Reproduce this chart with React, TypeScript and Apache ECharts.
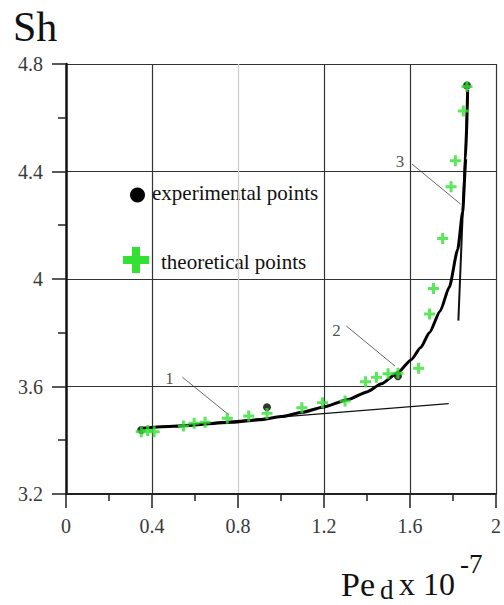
import React, { useEffect, useRef } from "react";
import * as echarts from "echarts";

const xTicks = [0, 0.4, 0.8, 1.2, 1.6, 2];
const yTicks = [3.2, 3.6, 4.0, 4.4, 4.8];

const mainCurve: [number, number][] = [
  [0.342, 3.444], [0.5, 3.452], [0.773, 3.467], [0.9, 3.476], [1.0, 3.488],
  [1.1, 3.504], [1.193, 3.523], [1.313, 3.552], [1.4, 3.58], [1.467, 3.61],
  [1.544, 3.652], [1.606, 3.7], [1.65, 3.745], [1.69, 3.8], [1.74, 3.88],
  [1.783, 3.97], [1.822, 4.11], [1.845, 4.25], [1.86, 4.45], [1.868, 4.703],
];
const asymptote1: [number, number][] = [[0.35, 3.445], [1.78, 3.536]];
const asymptote3: [number, number][] = [[1.825, 3.845], [1.868, 4.7]];

const theoretical: [number, number][] = [
  [0.35, 3.432], [0.38, 3.436], [0.41, 3.432], [0.546, 3.453], [0.596, 3.463],
  [0.647, 3.467], [0.75, 3.482], [0.85, 3.49], [0.935, 3.5], [1.097, 3.521],
  [1.193, 3.54], [1.298, 3.546], [1.393, 3.618], [1.444, 3.634], [1.498, 3.647],
  [1.544, 3.649], [1.64, 3.668], [1.691, 3.87], [1.709, 3.965], [1.752, 4.151],
  [1.791, 4.343], [1.811, 4.44], [1.848, 4.625], [1.865, 4.716],
];
const experimental: [number, number][] = [
  [0.35, 3.438], [0.935, 3.523], [1.544, 3.638], [1.865, 4.72],
];

const leader1: [number, number][] = [[0.541, 3.635], [0.758, 3.494]];
const leader2: [number, number][] = [[1.304, 3.825], [1.53, 3.676]];
const leader3: [number, number][] = [[1.609, 4.428], [1.835, 4.279]];
const curveLabels: [number, number, string][] = [
  [0.481, 3.628, "1"], [1.258, 3.81, "2"], [1.553, 4.439, "3"],
];

const legendNames = ["experimental points", "theoretical points"];
const yName = "Sh";
const xNameParts = ["Pe", "d", "x 10", "-7"];

const SERIF = "'Liberation Serif', 'DejaVu Serif', serif";
const GREEN = "#33e033";
const PLUS = "path://M4,0H7V4H11V7H7V11H4V7H0V4H4Z";

export default function App() {
  const ref = useRef<HTMLDivElement>(null);
  useEffect(() => {
    if (!ref.current) return;
    const chart = echarts.init(ref.current, null, { renderer: "svg" });
    const thin = (data: [number, number][], w: number, c: string) => ({
      type: "line",
      data,
      showSymbol: false,
      symbol: "none",
      lineStyle: { color: c, width: w },
      silent: true,
      z: 2,
    });
    chart.setOption({
      animation: false,
      backgroundColor: "#fff",
      grid: { left: 66, right: 6, top: 64, bottom: 111, containLabel: false },
      xAxis: {
        type: "value",
        min: xTicks[0],
        max: xTicks[xTicks.length - 1],
        interval: 0.4,
        axisLine: { show: true, onZero: false, lineStyle: { color: "#222", width: 2 } },
        axisTick: { show: true, inside: false, length: 14, lineStyle: { color: "#222", width: 1.5 } },
        minorTick: { show: true, splitNumber: 2, length: 7, lineStyle: { color: "#222", width: 1.5 } },
        axisLabel: { margin: 22, fontFamily: SERIF, fontSize: 20, color: "#3a3a3a" },
        splitLine: {
          show: true,
          showMinLine: false,
          lineStyle: { color: ["#333", "#ccc", "#333", "#333", "#333", "#333"], width: 1.2 },
        },
      },
      yAxis: {
        type: "value",
        min: yTicks[0],
        max: yTicks[yTicks.length - 1],
        interval: 0.4,
        axisLine: { show: true, onZero: false, lineStyle: { color: "#111", width: 2.5 } },
        axisTick: { show: true, inside: false, length: 14, lineStyle: { color: "#222", width: 1.5 } },
        minorTick: { show: true, splitNumber: 2, length: 8, lineStyle: { color: "#222", width: 1.5 } },
        axisLabel: { margin: 23, fontFamily: SERIF, fontSize: 20, color: "#3a3a3a" },
        splitLine: { show: true, showMinLine: false, lineStyle: { color: "#333", width: 1.2 } },
      },
      series: [
        thin(asymptote1, 1.3, "#111"),
        thin(asymptote3, 2, "#111"),
        thin(leader1, 0.8, "#444"),
        thin(leader2, 0.8, "#444"),
        thin(leader3, 0.8, "#444"),
        {
          type: "line",
          data: mainCurve,
          smooth: 0.2,
          smoothMonotone: "x",
          showSymbol: false,
          symbol: "none",
          lineStyle: { color: "#000", width: 3 },
          z: 3,
        },
        {
          name: legendNames[0],
          type: "scatter",
          data: experimental,
          symbol: "circle",
          symbolSize: 8,
          itemStyle: { color: "#000" },
          z: 4,
        },
        {
          name: legendNames[1],
          type: "scatter",
          data: theoretical,
          symbol: PLUS,
          symbolSize: 11,
          itemStyle: { color: GREEN },
          z: 5,
        },
        {
          type: "scatter",
          data: curveLabels,
          symbolSize: 0,
          silent: true,
          label: {
            show: true,
            position: "inside",
            formatter: (p: any) => p.value[2],
            fontFamily: SERIF,
            fontSize: 17,
            color: "#222",
          },
          z: 6,
        },
      ],
      graphic: [
        { type: "text", left: 13, top: 6, style: { text: yName, fontFamily: SERIF, fontSize: 42, fill: "#111" } },
        { type: "circle", shape: { cx: 137.5, cy: 195, r: 7.5 }, style: { fill: "#000" } },
        {
          type: "text", x: 152, y: 193,
          style: { text: legendNames[0], fontFamily: SERIF, fontSize: 21, fill: "#111", verticalAlign: "middle" },
        },
        { type: "rect", shape: { x: 123, y: 256, width: 26, height: 8 }, style: { fill: GREEN } },
        { type: "rect", shape: { x: 132, y: 247, width: 8, height: 26 }, style: { fill: GREEN } },
        {
          type: "text", x: 161, y: 262,
          style: { text: legendNames[1], fontFamily: SERIF, fontSize: 21, fill: "#111", verticalAlign: "middle" },
        },
        { type: "text", x: 341, y: 584, style: { text: xNameParts[0], fontFamily: SERIF, fontSize: 34, fill: "#111", verticalAlign: "middle" } },
        { type: "text", x: 380, y: 590, style: { text: xNameParts[1], fontFamily: SERIF, fontSize: 27, fill: "#111", verticalAlign: "middle" } },
        { type: "text", x: 399, y: 584, style: { text: xNameParts[2], fontFamily: SERIF, fontSize: 32, fill: "#111", verticalAlign: "middle" } },
        { type: "text", x: 460, y: 564, style: { text: xNameParts[3], fontFamily: SERIF, fontSize: 27, fill: "#111", verticalAlign: "middle" } },
      ],
    });
    return () => chart.dispose();
  }, []);
  return <div ref={ref} style={{ width: 504, height: 605, position: "absolute", left: 0, top: 0 }} />;
}
